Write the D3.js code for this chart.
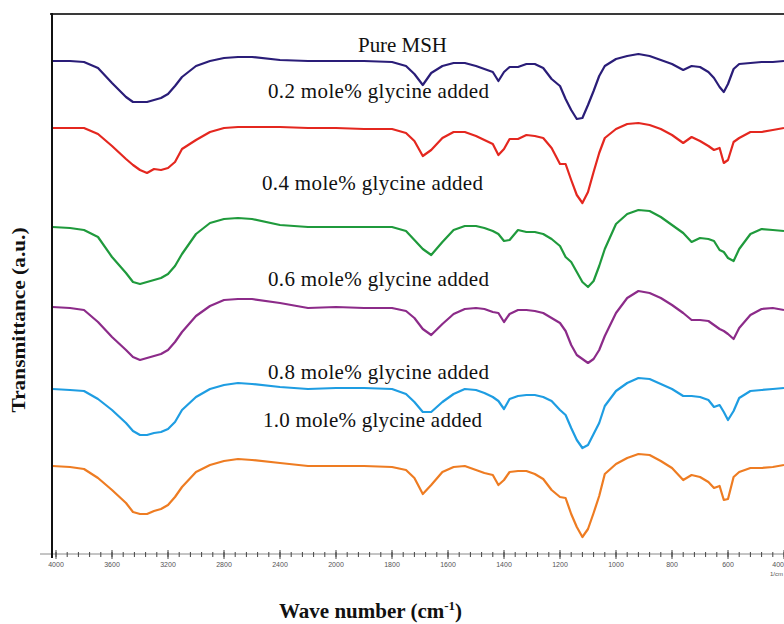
<!DOCTYPE html>
<html>
<head>
<meta charset="utf-8">
<script src="https://cdn.jsdelivr.net/npm/d3@7"></script>
<style>
  body { margin: 0; background: #fff; }
</style>
</head>
<body>
<script>
// wave numbers (cm-1) shared by all spectra
var waveNumbers = [4025, 3900, 3800, 3700, 3600, 3500, 3450, 3400, 3350, 3300, 3250, 3200, 3150, 3100,
  3000, 2900, 2800, 2700, 2600, 2400, 2200, 2000, 1900, 1800, 1750, 1720, 1690, 1660, 1620, 1580,
  1540, 1500, 1470, 1440, 1420, 1400, 1380, 1350, 1320, 1290, 1260, 1230, 1200, 1180, 1160, 1140,
  1120, 1100, 1080, 1060, 1040, 1000, 960, 920, 880, 840, 800, 760, 730, 700, 670, 650, 630, 615,
  600, 580, 560, 520, 480, 440, 400];

// stacked transmittance (a.u.)
var pureMSH = [499, 499, 498, 492, 477, 463, 458, 458, 458, 460, 462, 466, 474, 483, 494, 499, 502, 503, 503, 500,
  499, 499, 499, 498, 494, 486, 475, 487, 494, 497, 497, 494, 491, 488, 479, 488, 493, 493, 496, 496,
  492, 481, 474, 461, 450, 441, 442, 455, 469, 484, 494, 501, 504, 506, 504, 500, 496, 490, 494, 493,
  488, 482, 473, 468, 476, 491, 496, 497, 498, 498, 499];
var gly02 = [432, 432, 432, 426, 414, 401, 395, 390, 387, 391, 390, 392, 398, 411, 420, 428, 432, 433, 433, 433,
  432, 432, 431, 431, 427, 419, 404, 410, 422, 428, 428, 424, 420, 416, 405, 411, 421, 421, 425, 424,
  422, 412, 396, 396, 380, 365, 357, 368, 388, 407, 422, 431, 436, 437, 435, 431, 425, 417, 423, 419,
  414, 410, 412, 397, 400, 418, 422, 428, 428, 430, 432];
var gly04 = [333, 332, 330, 323, 303, 287, 278, 276, 278, 280, 282, 286, 294, 306, 326, 337, 341, 342, 341, 335,
  333, 333, 333, 333, 329, 320, 311, 305, 318, 330, 334, 334, 332, 329, 326, 319, 320, 330, 328, 328,
  326, 321, 314, 303, 298, 288, 278, 273, 279, 294, 311, 336, 346, 350, 349, 343, 335, 327, 318, 322,
  321, 319, 310, 308, 302, 299, 311, 326, 331, 330, 329];
var gly06 = [253, 252, 250, 238, 223, 210, 203, 200, 202, 204, 206, 210, 218, 228, 244, 254, 260, 261, 261, 257,
  252, 253, 252, 252, 249, 242, 231, 225, 236, 246, 251, 252, 251, 248, 247, 238, 246, 250, 250, 249,
  247, 242, 237, 229, 215, 205, 201, 197, 201, 210, 224, 247, 262, 269, 267, 262, 255, 247, 240, 240,
  239, 235, 231, 229, 226, 221, 232, 245, 251, 252, 250];
var gly08 = [171, 170, 169, 161, 150, 137, 129, 125, 125, 127, 128, 131, 138, 150, 163, 171, 175, 177, 176, 173,
  171, 172, 172, 171, 166, 158, 148, 148, 158, 166, 171, 170, 167, 163, 159, 151, 161, 164, 165, 165,
  163, 159, 150, 145, 132, 120, 112, 115, 126, 137, 154, 169, 177, 182, 181, 176, 171, 164, 164, 163,
  160, 153, 155, 148, 140, 149, 162, 169, 170, 171, 172];
var gly10 = [94, 93, 91, 82, 70, 57, 48, 46, 46, 49, 51, 55, 63, 73, 88, 95, 99, 101, 100, 97,
  94, 94, 94, 93, 90, 82, 66, 75, 88, 93, 94, 90, 87, 85, 75, 80, 88, 89, 89, 86,
  81, 70, 63, 62, 46, 33, 23, 31, 47, 64, 86, 96, 102, 106, 105, 99, 92, 80, 85, 83,
  78, 72, 74, 60, 61, 83, 88, 92, 92, 93, 95];

var series = [pureMSH, gly02, gly04, gly06, gly08, gly10];
var colors = ["#2a1d78", "#e4271f", "#1f9a3c", "#8c2b89", "#1e9de2", "#ee7c22"];
var labels = ["Pure MSH", "0.2 mole% glycine added", "0.4 mole% glycine added",
  "0.6 mole% glycine added", "0.8 mole% glycine added", "1.0 mole% glycine added"];
var labelPos = [[358, 52, 89], [268, 98, 221], [262, 190, 221], [268, 286, 221], [268, 379, 221], [263, 427, 219]];

var majorTicks = [4000, 3600, 3200, 2800, 2400, 2000, 1800, 1600, 1400, 1200, 1000, 800, 600, 400];

var svg = d3.select("body")
    .append("svg")
    .attr("width", 784)
    .attr("height", 624);

// split scale as on the spectrometer print-out
var x = d3.scaleLinear()
    .domain([4000, 2000, 400])
    .range([56, 336, 784]);

var y = d3.scaleLinear()
    .domain([0, 560])
    .range([560, 0]);

// frame
svg.append("line")
    .attr("x1", 50).attr("x2", 784)
    .attr("y1", 14).attr("y2", 14)
    .attr("stroke", "#3a3a3a")
    .attr("stroke-width", 2);

svg.append("line")
    .attr("x1", 40).attr("x2", 784)
    .attr("y1", 554).attr("y2", 554)
    .attr("stroke", "#8a8a8a")
    .attr("stroke-width", 1);

// minor ticks
var minor = d3.range(4000, 2000, -80).concat(d3.range(2000, 399, -40));
svg.selectAll(".minor")
    .data(minor)
    .enter()
    .append("line")
    .attr("class", "minor")
    .attr("x1", function(d) { return x(d); })
    .attr("x2", function(d) { return x(d); })
    .attr("y1", 552)
    .attr("y2", 557)
    .attr("stroke", "#444")
    .attr("stroke-width", 1);

svg.selectAll(".major")
    .data(majorTicks)
    .enter()
    .append("line")
    .attr("class", "major")
    .attr("x1", function(d) { return x(d); })
    .attr("x2", function(d) { return x(d); })
    .attr("y1", 550)
    .attr("y2", 559)
    .attr("stroke", "#444")
    .attr("stroke-width", 1);

svg.selectAll(".ticklabel")
    .data(majorTicks)
    .enter()
    .append("text")
    .attr("class", "ticklabel")
    .text(function(d) { return d; })
    .attr("x", function(d) { return x(d); })
    .attr("y", 567)
    .attr("text-anchor", function(d) { return d === 400 ? "end" : "middle"; })
    .attr("font-family", "Liberation Sans, Arial, sans-serif")
    .attr("font-size", "7px")
    .attr("fill", "#555");

svg.append("text")
    .text("1/cm")
    .attr("x", 783)
    .attr("y", 576)
    .attr("text-anchor", "end")
    .attr("font-family", "Liberation Sans, Arial, sans-serif")
    .attr("font-size", "6px")
    .attr("fill", "#555");

// spectra
var line = d3.line()
    .x(function(d, i) { return x(waveNumbers[i]); })
    .y(function(d) { return y(d); });

svg.selectAll(".spectrum")
    .data(series)
    .enter()
    .append("path")
    .attr("class", "spectrum")
    .attr("d", line)
    .attr("fill", "none")
    .attr("stroke", function(d, i) { return colors[i]; })
    .attr("stroke-width", 2.2)
    .attr("stroke-linejoin", "round");

// left axis line drawn over the curve starts
svg.append("line")
    .attr("x1", 52).attr("x2", 52)
    .attr("y1", 13).attr("y2", 558)
    .attr("stroke", "#111")
    .attr("stroke-width", 2);

svg.selectAll(".label")
    .data(labels)
    .enter()
    .append("text")
    .attr("class", "label")
    .text(function(d) { return d; })
    .attr("x", function(d, i) { return labelPos[i][0]; })
    .attr("y", function(d, i) { return labelPos[i][1]; })
    .attr("textLength", function(d, i) { return labelPos[i][2]; })
    .attr("lengthAdjust", "spacing")
    .attr("font-family", "Liberation Serif, Times New Roman, serif")
    .attr("font-size", "21px")
    .attr("fill", "#111");

// axis titles
svg.append("text")
    .text("Transmittance (a.u.)")
    .attr("transform", "translate(25,320) rotate(-90)")
    .attr("text-anchor", "middle")
    .attr("font-family", "Liberation Serif, Times New Roman, serif")
    .attr("font-weight", "bold")
    .attr("font-size", "19px")
    .attr("textLength", 185)
    .attr("lengthAdjust", "spacingAndGlyphs")
    .attr("fill", "#111");

var xt = svg.append("text")
    .attr("x", 279)
    .attr("y", 618)
    .attr("font-family", "Liberation Serif, Times New Roman, serif")
    .attr("font-weight", "bold")
    .attr("font-size", "21px")
    .attr("fill", "#111");
xt.append("tspan").text("Wave number (cm");
xt.append("tspan").text("-1").attr("dy", -8).attr("font-size", "13px");
xt.append("tspan").text(")").attr("dy", 8);
</script>
</body>
</html>
